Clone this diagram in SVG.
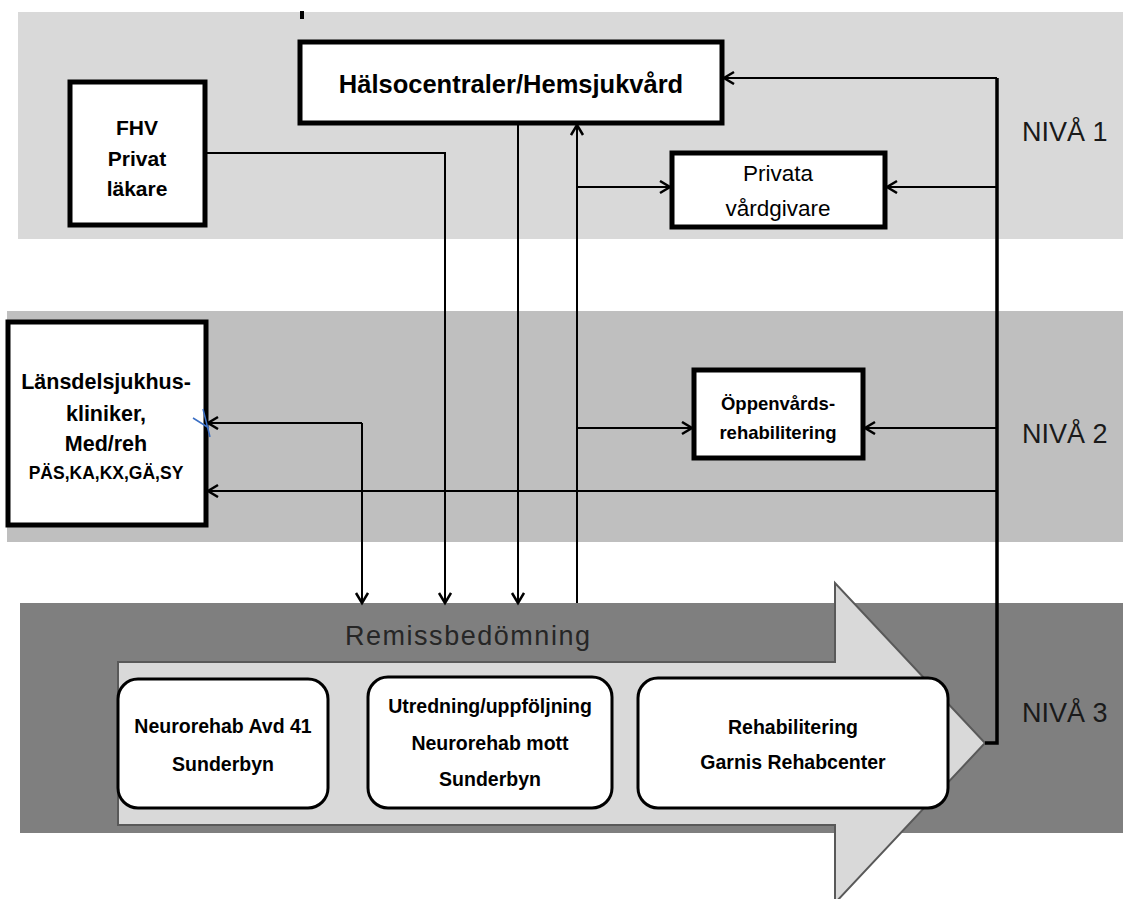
<svg xmlns="http://www.w3.org/2000/svg" width="1123" height="899" viewBox="0 0 1123 899">
<defs>
<style>
.box{fill:#fff;stroke:#000;stroke-width:5}
.rbox{fill:#fff;stroke:#000;stroke-width:3}
.t{font-family:"Liberation Sans",Arial,sans-serif;fill:#000;text-anchor:middle}
.b{font-weight:bold}
.niva{font-family:"Liberation Sans",Arial,sans-serif;font-size:27px;fill:#1a1a1a}
.c{fill:none;stroke:#000;stroke-width:2}
.ct{fill:none;stroke:#000;stroke-width:3.5}
</style>
<marker id="ah" markerUnits="userSpaceOnUse" markerWidth="14" markerHeight="16" refX="11" refY="7" orient="auto">
<path d="M1,1 L11,7 L1,13" fill="none" stroke="#000" stroke-width="2.5"/>
</marker>
</defs>
<rect width="1123" height="899" fill="#fff"/>
<g id="bands">
<rect x="18" y="12" width="1105" height="227" fill="#d9d9d9"/>
<rect x="7" y="311" width="1116" height="231" fill="#bfbfbf"/>
<rect x="20" y="603" width="1103" height="230" fill="#7f7f7f"/>
<rect x="300" y="11" width="4" height="8" fill="#000"/>
<polygon points="118,662 835,662 835,583 985,743 835,903 835,825 118,825" fill="#d9d9d9" stroke="#595959" stroke-width="2"/>
<text x="345" y="645" font-family="Liberation Sans,Arial,sans-serif" font-size="27" fill="#262626" textLength="245">Remissbedömning</text>
<text class="niva" x="1022" y="141">NIVÅ 1</text>
<text class="niva" x="1022" y="443">NIVÅ 2</text>
<text class="niva" x="1022" y="722">NIVÅ 3</text>
</g>
<g id="connectors">
<polyline class="ct" points="985,743 997,743 997,78"/>
<line class="c" x1="997" y1="78" x2="724" y2="78" marker-end="url(#ah)"/>
<line class="c" x1="997" y1="187" x2="887" y2="187" marker-end="url(#ah)"/>
<line class="c" x1="997" y1="428" x2="865" y2="428" marker-end="url(#ah)"/>
<line class="c" x1="997" y1="491" x2="208" y2="491" marker-end="url(#ah)"/>
<line class="c" x1="577" y1="603" x2="577" y2="125" marker-end="url(#ah)"/>
<line class="c" x1="577" y1="187" x2="670" y2="187" marker-end="url(#ah)"/>
<line class="c" x1="577" y1="428" x2="692" y2="428" marker-end="url(#ah)"/>
<line class="c" x1="518" y1="125" x2="518" y2="603" marker-end="url(#ah)"/>
<polyline class="c" points="207,153 445,153 445,603" marker-end="url(#ah)"/>
<polyline class="c" points="362,423 208,423" marker-end="url(#ah)"/>
<polyline class="c" points="362,423 362,603" marker-end="url(#ah)"/>
</g>
<g id="halsocentraler">
<rect class="box" x="300" y="42" width="422" height="81"/>
<text class="t b" x="511" y="93" font-size="25.5">Hälsocentraler/Hemsjukvård</text>
</g>
<g id="fhv">
<rect class="box" x="70" y="82" width="135" height="143"/>
<text class="t b" x="137" y="135" font-size="21">FHV</text>
<text class="t b" x="137" y="166" font-size="21">Privat</text>
<text class="t b" x="137" y="196" font-size="21">läkare</text>
</g>
<g id="privata">
<rect class="box" x="672" y="153" width="213" height="74" stroke-width="4"/>
<text class="t" x="778" y="181" font-size="22.5">Privata</text>
<text class="t" x="778" y="216" font-size="22.5">vårdgivare</text>
</g>
<g id="lansdel">
<rect class="box" x="8" y="322" width="198" height="203"/>
<text class="t b" x="106" y="389" font-size="21.5">Länsdelsjukhus-</text>
<text class="t b" x="106" y="421" font-size="21.5">kliniker,</text>
<text class="t b" x="106" y="451" font-size="21.5">Med/reh</text>
<text class="t b" x="106" y="479" font-size="17.5">PÄS,KA,KX,GÄ,SY</text>
<path d="M193,418 L209,428 M203,409 L210,437" fill="none" stroke="#3b6fc4" stroke-width="1.5"/>
</g>
<g id="oppenvard">
<rect class="box" x="694" y="370" width="169" height="88"/>
<text class="t b" x="778" y="410" font-size="18.5">Öppenvårds-</text>
<text class="t b" x="778" y="439" font-size="18.5">rehabilitering</text>
</g>
<g id="neurorehab">
<rect class="rbox" x="118" y="679" width="210" height="129" rx="20"/>
<text class="t b" x="223" y="733" font-size="19.5">Neurorehab Avd 41</text>
<text class="t b" x="223" y="771" font-size="19.5">Sunderbyn</text>
</g>
<g id="utredning">
<rect class="rbox" x="368" y="677" width="244" height="131" rx="20"/>
<text class="t b" x="490" y="713" font-size="19.5">Utredning/uppföljning</text>
<text class="t b" x="490" y="750" font-size="19.5">Neurorehab mott</text>
<text class="t b" x="490" y="786" font-size="19.5">Sunderbyn</text>
</g>
<g id="rehabilitering">
<rect class="rbox" x="638" y="678" width="310" height="130" rx="20"/>
<text class="t b" x="793" y="734" font-size="19.5">Rehabilitering</text>
<text class="t b" x="793" y="769" font-size="19.5">Garnis Rehabcenter</text>
</g>
</svg>
